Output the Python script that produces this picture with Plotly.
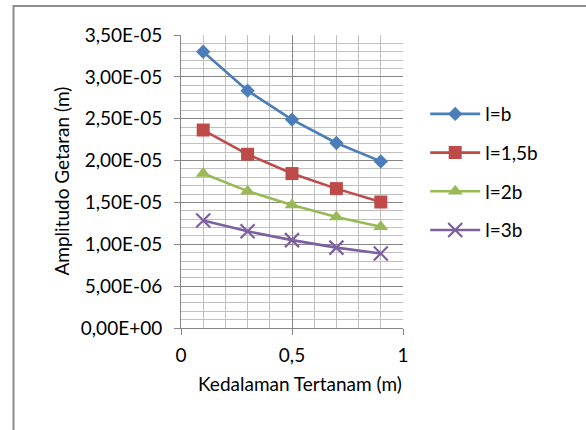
import plotly.graph_objects as go

depth = [0.1, 0.3, 0.5, 0.7, 0.9]
amp_b = [3.30e-05, 2.835e-05, 2.49e-05, 2.21e-05, 1.99e-05]
amp_15b = [2.365e-05, 2.075e-05, 1.845e-05, 1.665e-05, 1.505e-05]
amp_2b = [1.845e-05, 1.635e-05, 1.47e-05, 1.325e-05, 1.21e-05]
amp_3b = [1.285e-05, 1.155e-05, 1.05e-05, 9.6e-06, 8.9e-06]

series_names = ["l=b", "l=1,5b", "l=2b", "l=3b"]
series_vals = [amp_b, amp_15b, amp_2b, amp_3b]
colors = ["#4A7EBB", "#BE4B48", "#98B954", "#7D60A0"]
symbols = ["diamond", "square", "triangle-up", "x-thin"]
sizes = [11, 13, 13, 14]

y_tickvals = [0, 5e-06, 1e-05, 1.5e-05, 2e-05, 2.5e-05, 3e-05, 3.5e-05]
y_ticktext = ["0,00E+00", "5,00E-06", "1,00E-05", "1,50E-05", "2,00E-05",
              "2,50E-05", "3,00E-05", "3,50E-05"]
x_tickvals = [0, 0.5, 1]
x_ticktext = ["0", "0,5", "1"]

FONT = "Lato"
fig = go.Figure()
for i, (name, vals) in enumerate(zip(series_names, series_vals)):
    marker = dict(symbol=symbols[i], size=sizes[i], color=colors[i])
    if symbols[i] == "x-thin":
        marker["line"] = dict(color=colors[i], width=2.2)
    fig.add_trace(go.Scatter(
        x=depth, y=vals, name=name, mode="lines+markers",
        line=dict(color=colors[i], width=2.6),
        marker=marker, legendgroup=name,
    ))

major = "#878787"
minor = "#C0C0C0"
fig.update_layout(
    width=586, height=430,
    margin=dict(l=181, r=183, t=35, b=102),
    paper_bgcolor="white", plot_bgcolor="white",
    font=dict(family=FONT, size=19, color="#000000"),
    showlegend=True,
    legend=dict(x=1.10, y=0.795, xanchor="left", yanchor="top",
                itemwidth=50, tracegroupgap=11,
                font=dict(family=FONT, size=19)),
    xaxis=dict(range=[0, 1], tickmode="array", tickvals=x_tickvals,
               ticktext=x_ticktext, showgrid=True, gridcolor=major,
               gridwidth=1, ticks="outside", ticklen=6, tickcolor=major,
               showline=True, linecolor=major, linewidth=1, zeroline=False,
               minor=dict(tickmode="linear", tick0=0, dtick=0.1,
                          showgrid=True, gridcolor=minor, gridwidth=1,
                          ticks=""),
               ticklabelstandoff=4),
    yaxis=dict(range=[0, 3.5e-05], tickmode="array", tickvals=y_tickvals,
               ticktext=y_ticktext, showgrid=True, gridcolor=major,
               gridwidth=1, ticks="outside", ticklen=6, tickcolor=major,
               showline=True, linecolor=major, linewidth=1, zeroline=False,
               minor=dict(tickmode="linear", tick0=0, dtick=1e-06,
                          showgrid=True, gridcolor=minor, gridwidth=1,
                          ticks=""),
               ticklabelstandoff=8),
    annotations=[
        dict(text="Kedalaman Tertanam (m)", xref="paper", yref="paper",
             x=(300 - 181) / 222, y=(328 - 383) / 293, xanchor="center",
             yanchor="middle", showarrow=False,
             font=dict(family=FONT, size=19)),
        dict(text="Amplitudo Getaran (m)", xref="paper", yref="paper",
             x=(61 - 181) / 222, y=0.5, xanchor="center", yanchor="middle",
             textangle=-90, showarrow=False,
             font=dict(family=FONT, size=19)),
    ],
    shapes=[
        dict(type="rect", xref="paper", yref="paper",
             x0=(13.5 - 181) / 222, x1=(590 - 181) / 222,
             y0=(328 - 434) / 293, y1=(328 - 6) / 293,
             line=dict(color="#8C8C8C", width=2), layer="below"),
    ],
)

fig.write_html("out.html")
